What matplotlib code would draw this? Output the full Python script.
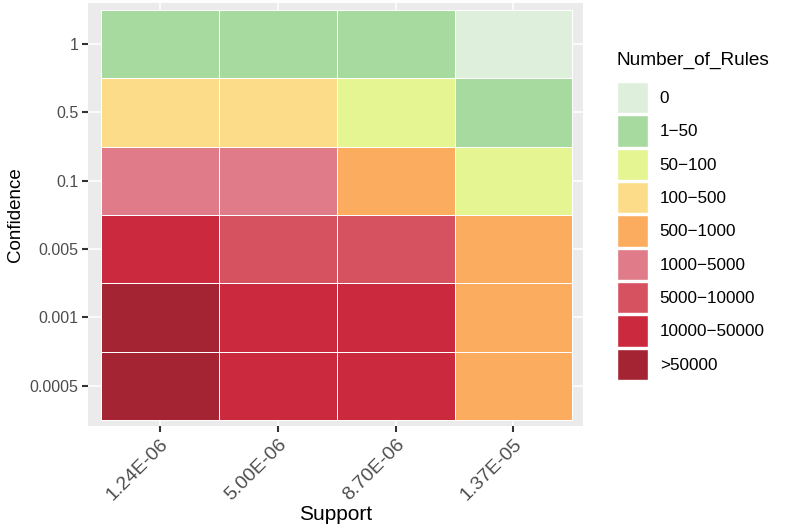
import numpy as np
import matplotlib.pyplot as plt
from matplotlib.colors import ListedColormap
from matplotlib.patches import Patch

support = ["1.24E-06", "5.00E-06", "8.70E-06", "1.37E-05"]
confidence = ["0.0005", "0.001", "0.005", "0.1", "0.5", "1"]

categories = ["0", "1\u221250", "50\u2212100", "100\u2212500", "500\u22121000",
              "1000\u22125000", "5000\u221210000", "10000\u221250000", ">50000"]
colors = ["#deefdb", "#a7da9f", "#e4f592", "#fddc89", "#fcac5f",
          "#e07b89", "#d65261", "#cb2a3e", "#a52433"]

# category index per cell, rows follow confidence (bottom to top)
rules = [
    [8, 7, 7, 4],   # 0.0005
    [8, 7, 7, 4],   # 0.001
    [7, 6, 6, 4],   # 0.005
    [5, 5, 4, 2],   # 0.1
    [3, 3, 2, 1],   # 0.5
    [1, 1, 1, 0],   # 1
]

plt.rcParams['font.family'] = ['Liberation Sans', 'DejaVu Sans']

fig = plt.figure(figsize=(7.87, 5.27), dpi=100)
ax = fig.add_axes([88 / 787, 101 / 527, 495 / 787, 423 / 527])
ax.set_facecolor("#ebebeb")

for v in range(len(support)):
    ax.axvline(v, color="white", lw=1.1, zorder=0)
for v in range(len(confidence)):
    ax.axhline(v, color="white", lw=1.1, zorder=0)

cmap = ListedColormap(colors)
ax.pcolormesh(np.arange(len(support) + 1) - 0.5,
              np.arange(len(confidence) + 1) - 0.5,
              np.array(rules), cmap=cmap, vmin=-0.5, vmax=len(colors) - 0.5,
              edgecolors="white", linewidth=0.6, zorder=1)

ax.set_xlim(-0.61, len(support) - 0.5 + 0.09)
ax.set_ylim(-0.59, len(confidence) - 0.5 + 0.1)

ax.set_xticks(range(len(support)))
ax.set_xticklabels(support, rotation=45, ha="right", va="top",
                   rotation_mode="anchor", fontsize=14, color="#4d4d4d")
ax.set_yticks(range(len(confidence)))
ax.set_yticklabels(confidence, fontsize=11.5, color="#4d4d4d")
ax.tick_params(length=4, width=1.5, color="#333333", pad=3)
for s in ax.spines.values():
    s.set_visible(False)

ax.set_xlabel("Support", fontsize=15, labelpad=1)
ax.set_ylabel("Confidence", fontsize=13.5, labelpad=4)

# legend title drawn on its own so the gap to the keys can be set
fig.text(617 / 787, 1 - 60 / 527, "Number_of_Rules", fontsize=13.7,
         ha="left", va="center")
handles = [Patch(facecolor=c, edgecolor="white", label=l)
           for c, l in zip(colors, categories)]
fig.legend(handles=handles, loc="upper left",
           bbox_to_anchor=(617 / 787, 1 - 82 / 527), frameon=False,
           fontsize=12.3, handlelength=1.8, handleheight=2.44,
           labelspacing=0.12, handletextpad=0.7, borderpad=0,
           borderaxespad=0)

fig.savefig("out.png", dpi=100)
